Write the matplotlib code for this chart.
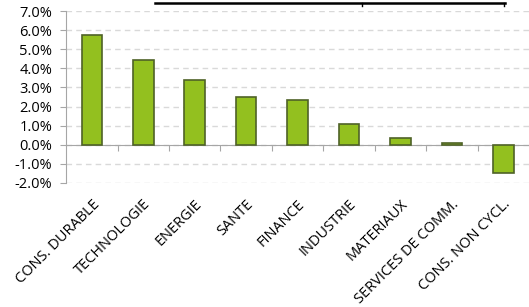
import matplotlib.pyplot as plt
import matplotlib.transforms as mtransforms
from matplotlib.lines import Line2D

# sector performance data
sectors = ['CONS. DURABLE', 'TECHNOLOGIE', 'ENERGIE', 'SANTE', 'FINANCE',
           'INDUSTRIE', 'MATERIAUX', 'SERVICES DE COMM.', 'CONS. NON CYCL.']
perf = [5.75, 4.43, 3.4, 2.5, 2.32, 1.08, 0.37, 0.1, -1.47]
yticks = [-2, -1, 0, 1, 2, 3, 4, 5, 6, 7]

plt.rcParams['font.family'] = ['Open Sans', 'DejaVu Sans']

fig = plt.figure(figsize=(5.29, 3.07), dpi=100)
ax = fig.add_axes([0.125, 0.404, 0.875, 0.56])

x = range(len(sectors))
ax.bar(x, perf, width=0.4, color='#93C01F', edgecolor='#4F6228', linewidth=1.2, zorder=3)

ax.set_xlim(-0.5, len(sectors) - 0.5)
ax.set_ylim(-2, 7)
ax.set_yticks(yticks)
ax.set_yticklabels(['%.1f%%' % v for v in yticks], fontsize=10.5)
ax.yaxis.grid(True, linestyle=(0, (4, 3)), color='#D9D9D9', linewidth=1, zorder=0)

ax.spines['top'].set_visible(False)
ax.spines['right'].set_visible(False)
ax.spines['left'].set_color('#A6A6A6')
ax.spines['bottom'].set_color('#A6A6A6')
ax.spines['bottom'].set_position(('data', 0))
ax.tick_params(axis='y', color='#A6A6A6', length=4, pad=6)

# ticks between categories on the zero line
ax.set_xticks([i + 0.5 for i in range(len(sectors) - 1)])
ax.set_xticklabels([])
ax.tick_params(axis='x', color='#A6A6A6', length=4, direction='out')

trans = mtransforms.blended_transform_factory(ax.transData, ax.transAxes)
for i, s in enumerate(sectors):
    ax.text(i + 0.0, -0.08, s, transform=trans, rotation=45, ha='right', va='top',
            rotation_mode='anchor', fontsize=10.5)

# line cut off at top of the picture
fig.add_artist(Line2D([155/529, 505/529], [1 - 3/307, 1 - 3/307], color='black', lw=1.8))
fig.add_artist(Line2D([362/529, 362/529], [1 - 3/307, 1 - 6/307], color='black', lw=1))
fig.add_artist(Line2D([504/529, 504/529], [1 - 3/307, 1 - 6/307], color='black', lw=1))

fig.savefig('out.png', dpi=100)
